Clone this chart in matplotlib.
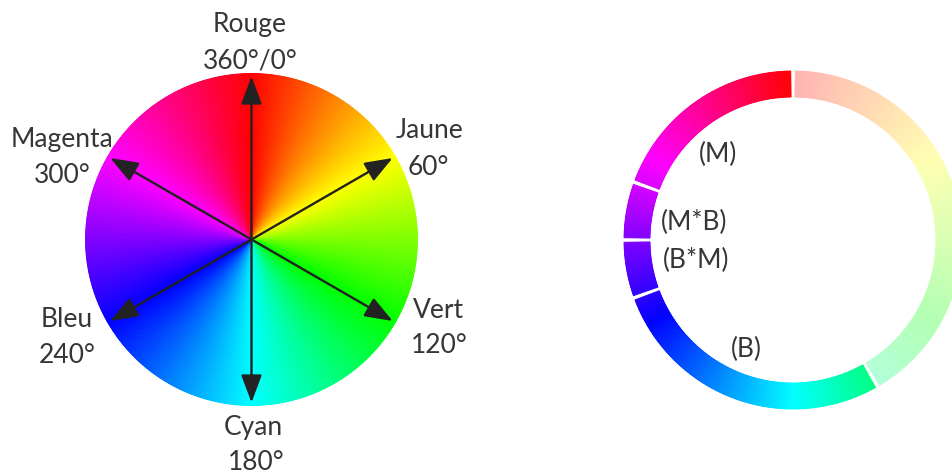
import colorsys
import numpy as np
import matplotlib.pyplot as plt
from matplotlib.patches import Wedge, FancyArrowPatch

# hue wheel: directions (degrees, clockwise from top) and their labels
hue_dirs = [0, 60, 120, 180, 240, 300]
hue_names = ['Rouge', 'Jaune', 'Vert', 'Cyan', 'Bleu', 'Magenta']
hue_degs = ['360°/0°', '60°', '120°', '180°', '240°', '300°']

# ring segments (hue ranges) and their labels
seg_lo = [290, 270, 250, 150, 0]
seg_hi = [360, 290, 270, 250, 150]
seg_pale = [False, False, False, False, True]
seg_labels = ['(M)', '(M*B)', '(B*M)', '(B)', '']

W, H = 952, 475
fig = plt.figure(figsize=(W / 100, H / 100), dpi=100)
ax = fig.add_axes([0, 0, 1, 1])
ax.set_xlim(0, W)
ax.set_ylim(0, H)
ax.set_aspect('equal')
ax.axis('off')

txt = '#363636'
font = 'Lato'
fs = 19


def hue_color(h, pale=False):
    r, g, b = colorsys.hsv_to_rgb((h % 360) / 360.0, 1, 1)
    if pale:
        a = 0.3
        r, g, b = 1 - a * (1 - r), 1 - a * (1 - g), 1 - a * (1 - b)
    return (r, g, b)


def Y(y):
    # image rows -> axis coordinates
    return H - y


# ---- left: full hue wheel
cx, cy, R = 251.5, Y(239.5), 166
step = 0.5
for h in np.arange(0, 360, step):
    c = hue_color(h + step / 2)
    ax.add_patch(Wedge((cx, cy), R, 90 - h - step, 90 - h, facecolor=c,
                       edgecolor=c, lw=0.6))

for d in hue_dirs:
    t = np.radians(90 - d)
    tip = (cx + (R - 3) * np.cos(t), cy + (R - 3) * np.sin(t))
    ax.add_patch(FancyArrowPatch((cx, cy), tip, arrowstyle='-|>,head_length=8.5,head_width=3.2',
                                 mutation_scale=2, color='#222222', lw=1.7,
                                 shrinkA=0, shrinkB=0))

# label positions (centre x, baseline y in image rows)
name_pos = [(250, 32), (430, 138), (438, 318), (253, 435), (67, 327), (62, 147)]
deg_pos = [(250, 68), (428, 175), (439, 353), (256, 470), (67, 363), (62, 183)]
for n, dg, p1, p2 in zip(hue_names, hue_degs, name_pos, deg_pos):
    ax.text(p1[0], Y(p1[1]), n, ha='center', va='baseline', fontsize=fs,
            family=font, color=txt)
    ax.text(p2[0], Y(p2[1]), dg, ha='center', va='baseline', fontsize=fs,
            family=font, color=txt)

# ---- right: segmented ring
rx, ry, Ro, rw = 793, Y(240), 169, 26
gap = 0.75
for lo, hi, pale in zip(seg_lo, seg_hi, seg_pale):
    hs = np.arange(lo + gap, hi - gap, step)
    for h in hs:
        h2 = min(h + step, hi - gap)
        c = hue_color((h + h2) / 2, pale)
        ax.add_patch(Wedge((rx, ry), Ro, 90 - h2, 90 - h, width=rw,
                           facecolor=c, edgecolor=c, lw=0.6))

lab_pos = [(718, 162), (694, 230), (696, 268), (746, 357)]
for lab, p in zip(seg_labels, lab_pos):
    ax.text(p[0], Y(p[1]), lab, ha='center', va='baseline', fontsize=fs,
            family=font, color=txt)

fig.savefig('out.png', dpi=100, facecolor='white')
